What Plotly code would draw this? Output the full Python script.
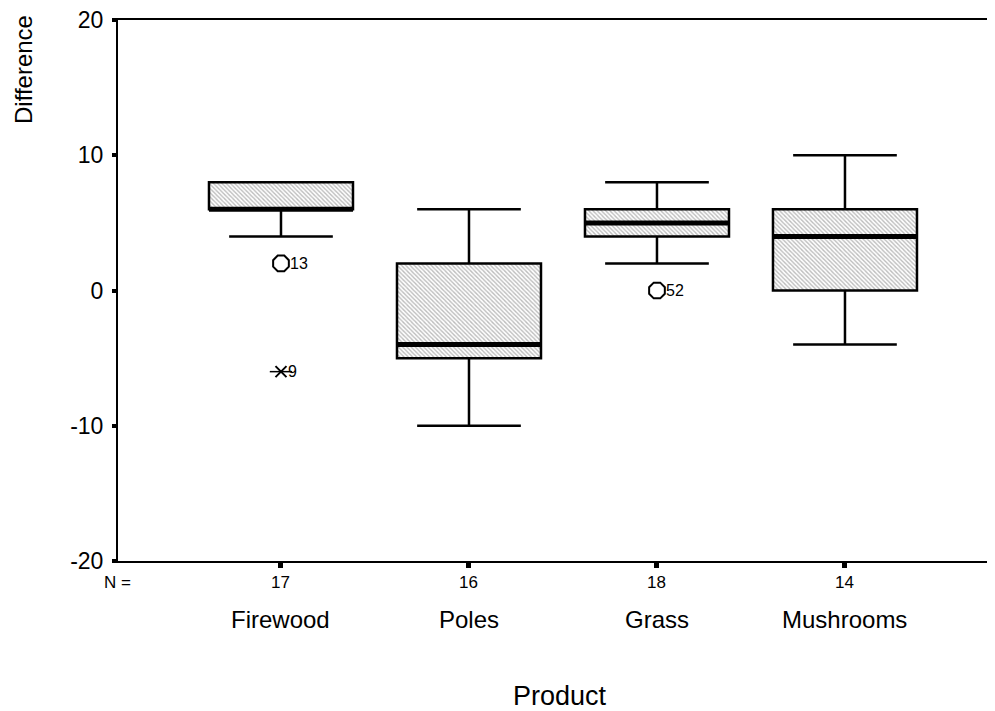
import plotly.graph_objects as go

categories = ["Firewood", "Poles", "Grass", "Mushrooms"]
n_counts = [17, 16, 18, 14]
q1 = [6, -5, 4, 0]
median = [6, -4, 5, 4]
q3 = [8, 2, 6, 6]
lower_whisker = [4, -10, 2, -4]
upper_whisker = [8, 6, 8, 10]

# outliers: (category index, value, case label)
circle_out_cat = [0, 2]
circle_out_val = [2, 0]
circle_out_lbl = ["13", "52"]
star_out_cat = [0]
star_out_val = [-6]
star_out_lbl = ["9"]

y_ticks = [-20, -10, 0, 10, 20]
y_tick_labels = ["-20", "-10", "0", "10", "20"]

xpos = list(range(len(categories)))
BOXW = 0.766
FONT = "Liberation Sans, Arial, sans-serif"

fig = go.Figure()

# hatched box bodies
fig.add_trace(go.Bar(
    x=xpos, base=q1, y=[b - a for a, b in zip(q1, q3)], width=BOXW,
    marker=dict(color="white", line=dict(width=0),
                pattern=dict(shape="\\", fgcolor="#7a7a7a", bgcolor="white",
                             size=3, solidity=0.45)),
    hoverinfo="skip", showlegend=False))

# box outline + whiskers
fig.add_trace(go.Box(
    x=xpos, q1=q1, median=median, q3=q3,
    lowerfence=lower_whisker, upperfence=upper_whisker,
    width=BOXW, whiskerwidth=0.72, boxpoints=False,
    fillcolor="rgba(0,0,0,0)", line=dict(color="black", width=2.5),
    hoverinfo="skip", showlegend=False))

# thick medians
mx, my = [], []
for i, m in zip(xpos, median):
    mx += [i - BOXW / 2, i + BOXW / 2, None]
    my += [m, m, None]
fig.add_trace(go.Scatter(x=mx, y=my, mode="lines",
                         line=dict(color="black", width=5),
                         hoverinfo="skip", showlegend=False))

# outliers
fig.add_trace(go.Scatter(x=circle_out_cat, y=circle_out_val, mode="markers",
                         marker=dict(symbol="octagon-open", size=17,
                                     line=dict(color="black", width=2), color="black"),
                         hoverinfo="skip", showlegend=False))
fig.add_trace(go.Scatter(x=star_out_cat, y=star_out_val, mode="markers",
                         marker=dict(symbol="x-thin-open", size=11,
                                     line=dict(color="black", width=2), color="black"),
                         hoverinfo="skip", showlegend=False))
fig.add_trace(go.Scatter(x=star_out_cat, y=star_out_val, mode="markers",
                         marker=dict(symbol="line-ew-open", size=16,
                                     line=dict(color="black", width=1.5), color="black"),
                         hoverinfo="skip", showlegend=False))

annotations = []
for c, v, l in zip(circle_out_cat, circle_out_val, circle_out_lbl):
    annotations.append(dict(x=c, y=v, xref="x", yref="y", text=l, showarrow=False,
                            xanchor="left", xshift=7, font=dict(size=16, family=FONT, color="black")))
for c, v, l in zip(star_out_cat, star_out_val, star_out_lbl):
    annotations.append(dict(x=c, y=v, xref="x", yref="y", text=l, showarrow=False,
                            xanchor="left", xshift=5, font=dict(size=16, family=FONT, color="black")))

annotations.append(dict(x=(117 - 118) / 877, y=0, xref="paper", yref="paper", text="N =",
                        showarrow=False, xanchor="center", yanchor="middle", yshift=-21.5,
                        font=dict(size=17, family=FONT, color="black")))
for i, n in zip(xpos, n_counts):
    annotations.append(dict(x=i, y=0, xref="x", yref="paper", text=str(n),
                            showarrow=False, yanchor="middle", yshift=-21.5,
                            font=dict(size=17, family=FONT, color="black")))
for i, c in zip(xpos, categories):
    annotations.append(dict(x=i, y=0, xref="x", yref="paper", text=c,
                            showarrow=False, yanchor="middle", yshift=-58.5,
                            font=dict(size=24, family=FONT, color="black")))
annotations.append(dict(x=(560 - 118) / 877, y=0, xref="paper", yref="paper", text="Product",
                        showarrow=False, yanchor="middle", yshift=-135,
                        font=dict(size=27, family=FONT, color="black")))
annotations.append(dict(x=(24 - 118) / 877, y=(561 - 70) / 541, xref="paper", yref="paper",
                        text="Difference",
                        showarrow=False, textangle=-90, xanchor="center", yanchor="middle",
                        font=dict(size=24, family=FONT, color="black")))

fig.update_layout(
    width=987, height=703,
    margin=dict(l=110, r=0, t=12, b=150, pad=0),
    paper_bgcolor="white", plot_bgcolor="white",
    font=dict(family=FONT, color="black"),
    showlegend=False, barmode="overlay",
    annotations=annotations,
    xaxis=dict(range=[-0.867, 3.798], tickvals=xpos, ticktext=["" for _ in xpos],
               ticks="outside", ticklen=5, tickwidth=5, tickcolor="black",
               showline=True, linecolor="black", linewidth=2, mirror=True,
               showgrid=False, zeroline=False, fixedrange=True),
    yaxis=dict(range=[-20, 20], tickvals=y_ticks, ticktext=y_tick_labels,
               ticks="outside", ticklen=4, tickwidth=4, tickcolor="black",
               ticklabelstandoff=4, ticklabeloverflow="allow",
               showline=True, linecolor="black", linewidth=2,
               showgrid=False, zeroline=False,
               tickfont=dict(size=23, family=FONT, color="black")),
)

fig.write_html("out.html")
